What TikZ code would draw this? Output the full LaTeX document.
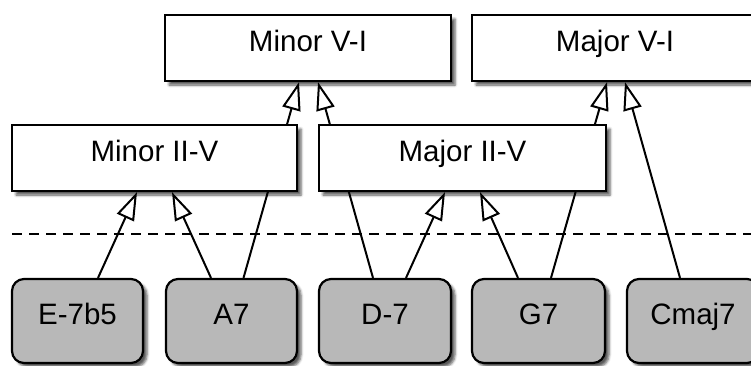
\documentclass[tikz,border=0pt]{standalone}
\usepackage{fontspec}
\setmainfont{Liberation Sans}
\usetikzlibrary{arrows.meta,shadows.blur}
\pgfdeclarelayer{edges}
\pgfsetlayers{edges,main}
\definecolor{chordgray}{RGB}{184,184,184}

\begin{document}
\begin{tikzpicture}[x=1pt,y=-1pt,
  box/.style={draw, line width=2.2pt, fill=white, inner sep=0pt,
    font=\fontsize{29.5}{34}\selectfont, text height=21pt, text depth=15pt,
    blur shadow={shadow xshift=4pt, shadow yshift=-4pt,
      shadow blur radius=2.5pt, shadow opacity=65}},
  group/.style={box, minimum height=66pt},
  chord/.style={box, fill=chordgray, rounded corners=12pt, minimum height=84pt},
  inh/.style={line width=2pt, line join=miter,
    -{Triangle[open, length=28pt, width=18.5pt]}},
  sepline/.style={line width=2pt, dash pattern=on 10pt off 7pt}]

\useasboundingbox (0,0) rectangle (751,365);

% cadence groups
\node[group, minimum width=286pt] (minVI)  at (308,48)    {Minor V-I};
\node[group, minimum width=286pt] (majVI)  at (615,48)    {Major V-I};
\node[group, minimum width=285pt] (minIIV) at (154.5,158) {Minor II-V};
\node[group, minimum width=287pt] (majIIV) at (462.5,158) {Major II-V};

% separator between groups and chords
\coordinate (sepL) at (12,234);
\coordinate (sepR) at (760,234);
\draw[sepline] (sepL) -- (sepR);

% chords
\node[chord, minimum width=131pt] (Em) at (77.5,321)  {E-7b5};
\node[chord, minimum width=131pt] (A)  at (231.5,321) {A7};
\node[chord, minimum width=132pt] (Dm) at (385,321)   {D-7};
\node[chord, minimum width=133pt] (G)  at (538.5,321) {G7};
\node[chord, minimum width=132pt] (C)  at (693,321)   {Cmaj7};

% membership arrows, drawn behind the boxes
\begin{pgfonlayer}{edges}
  \draw[inh] ([xshift=20.5pt]Em.north) -- ([xshift=-17.5pt]minIIV.south);
  \draw[inh] ([xshift=-20.5pt]A.north) -- ([xshift=17.5pt]minIIV.south);
  \draw[inh] ([xshift=12pt]A.north)    -- ([xshift=-9pt]minVI.south);
  \draw[inh] ([xshift=-12pt]Dm.north)  -- ([xshift=10pt]minVI.south);
  \draw[inh] ([xshift=21pt]Dm.north)   -- ([xshift=-17.5pt]majIIV.south);
  \draw[inh] ([xshift=-20.5pt]G.north) -- ([xshift=17.5pt]majIIV.south);
  \draw[inh] ([xshift=12.5pt]G.north)  -- ([xshift=-8pt]majVI.south);
  \draw[inh] ([xshift=-13pt]C.north)   -- ([xshift=10pt]majVI.south);
\end{pgfonlayer}
\end{tikzpicture}
\end{document}
